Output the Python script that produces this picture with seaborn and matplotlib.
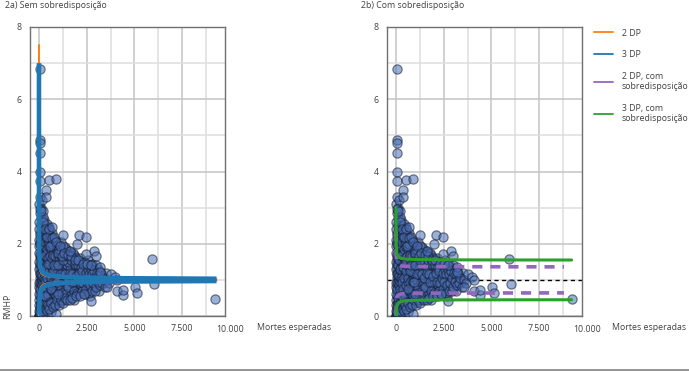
import matplotlib
matplotlib.use('Agg')
import numpy as np
import seaborn as sns
from matplotlib import pyplot as plt
from matplotlib.lines import Line2D

# pontos (mortes esperadas, RMHP), por faixa de mortes esperadas
faixa_0_150 = [(2, 0.00), (5, 3.10), (8, 0.45), (12, 2.60), (15, 0.00), (20, 1.95), (25, 0.30),
               (30, 3.30), (35, 1.20), (40, 0.70), (45, 2.30), (50, 0.10), (55, 1.60), (60, 2.85),
               (65, 0.55), (70, 1.05), (75, 2.05), (80, 0.20), (85, 1.40), (90, 3.00), (95, 0.85),
               (100, 1.80), (105, 0.35), (110, 2.45), (115, 1.25), (120, 0.60), (125, 1.95),
               (130, 2.70), (135, 0.95), (140, 1.50), (145, 0.15), (150, 2.20), (10, 1.75),
               (22, 0.80), (38, 2.95), (52, 1.35), (68, 0.05), (84, 2.55), (98, 1.10), (112, 0.40),
               (128, 1.65), (142, 3.20)]
faixa_0_300_b = [(3, 0.90), (6, 1.50), (9, 2.10), (14, 0.60), (18, 1.30), (24, 2.40), (28, 0.95),
                 (33, 1.70), (42, 0.25), (48, 1.15), (58, 2.00), (62, 0.75), (72, 1.45), (78, 2.25),
                 (88, 0.50), (92, 1.20), (102, 1.60), (108, 0.90), (118, 2.10), (122, 1.40),
                 (132, 0.30), (138, 1.85), (148, 1.00), (155, 1.60), (165, 0.85), (185, 1.95),
                 (195, 1.25), (225, 1.55), (255, 1.85), (285, 1.25), (18, 0.00), (35, 0.00),
                 (55, 0.00), (75, 0.00), (95, 0.02), (130, 0.05), (165, 0.08), (200, 0.05),
                 (12, 0.15), (30, 0.12)]
faixa_150_400 = [(160, 0.25), (170, 1.10), (180, 2.40), (190, 0.60), (200, 1.70), (210, 2.90),
                 (220, 0.95), (230, 0.15), (240, 2.10), (250, 1.35), (260, 0.45), (270, 1.90),
                 (280, 2.65), (290, 0.80), (300, 1.50), (310, 0.30), (320, 2.25), (330, 1.15),
                 (340, 0.70), (350, 1.80), (360, 2.50), (370, 0.50), (380, 1.25), (390, 2.00),
                 (400, 0.90), (175, 1.55), (205, 0.75), (235, 2.75), (265, 1.05), (295, 1.95),
                 (325, 0.40), (355, 1.40), (385, 2.30), (215, 1.30), (245, 0.55), (275, 1.65),
                 (305, 1.00), (335, 2.05), (365, 0.20), (395, 1.60)]
faixa_400_800 = [(420, 0.35), (440, 1.30), (460, 2.20), (480, 0.75), (500, 1.60), (520, 2.45),
                 (540, 1.05), (560, 0.50), (580, 1.85), (600, 1.20), (620, 0.30), (640, 2.05),
                 (660, 0.90), (680, 1.45), (700, 2.30), (720, 0.65), (740, 1.70), (760, 1.10),
                 (780, 0.45), (800, 1.95), (430, 1.75), (470, 0.95), (510, 1.15), (550, 2.10),
                 (590, 0.65), (630, 1.55), (670, 1.90), (710, 1.00), (750, 1.35), (790, 0.80),
                 (450, 0.55), (490, 2.00), (530, 1.40), (570, 0.85), (610, 1.75), (650, 1.25),
                 (690, 0.55), (730, 2.15), (770, 1.50), (410, 2.55)]
faixa_300_900_b = [(310, 1.70), (330, 0.90), (350, 2.20), (370, 1.35), (390, 0.75), (410, 1.85),
                   (430, 1.05), (450, 2.35), (470, 1.60), (490, 0.60), (510, 1.90), (530, 0.85),
                   (550, 1.25), (570, 2.25), (590, 1.45), (610, 0.95), (630, 1.05), (650, 1.85),
                   (670, 0.70), (690, 1.35), (710, 1.65), (730, 0.95), (750, 1.90), (770, 0.70),
                   (790, 1.25), (810, 1.55), (830, 1.00), (850, 0.60), (870, 1.75), (890, 1.15),
                   (320, 0.55), (420, 0.15), (520, 0.25), (620, 0.10), (720, 0.30), (460, 1.45),
                   (560, 1.65), (660, 1.60), (760, 1.70), (860, 1.35)]
faixa_800_1300 = [(820, 0.40), (850, 1.25), (880, 1.95), (910, 0.70), (940, 1.55), (970, 1.05),
                  (1000, 0.50), (1030, 1.80), (1060, 1.20), (1090, 0.85), (1120, 1.60), (1150, 2.05),
                  (1180, 0.60), (1210, 1.35), (1240, 1.00), (1270, 1.75), (1300, 0.75), (830, 1.65),
                  (870, 0.95), (900, 1.40), (960, 0.35), (990, 1.90), (1020, 1.15), (1080, 1.50),
                  (1110, 0.70), (1170, 1.10), (1200, 1.85), (1260, 0.90), (1290, 1.45), (890, 0.05),
                  (940, 2.00)]
faixa_900_2000_b = [(920, 1.20), (950, 0.85), (980, 1.70), (1010, 1.30), (1040, 0.65), (1070, 1.55),
                    (1100, 1.00), (1130, 1.30), (1160, 0.80), (1190, 1.60), (1220, 1.15), (1250, 0.55),
                    (1280, 1.25), (1320, 0.95), (1360, 1.45), (1400, 1.10), (1440, 1.30), (1480, 0.65),
                    (1520, 1.20), (1560, 0.90), (1600, 1.50), (1640, 1.05), (1680, 1.20), (1720, 0.80),
                    (1760, 1.35), (1800, 0.95), (1840, 1.25), (1880, 1.05), (1920, 0.65), (1960, 1.20),
                    (1000, 1.95), (1100, 1.75), (1200, 0.45), (1400, 1.85), (1550, 0.60)]
faixa_1300_2000 = [(1330, 1.20), (1370, 0.55), (1410, 1.65), (1450, 0.90), (1490, 1.40), (1530, 1.05),
                   (1570, 1.80), (1610, 0.70), (1650, 1.30), (1690, 0.95), (1730, 1.55), (1770, 0.60),
                   (1810, 1.15), (1850, 1.70), (1890, 0.85), (1930, 1.35), (1970, 1.00), (1350, 1.90),
                   (1430, 0.75), (1510, 1.50), (1590, 0.50), (1670, 1.75), (1750, 1.10), (1830, 0.45),
                   (1910, 1.50), (1990, 0.75)]
faixa_2000_3500 = [(2050, 1.25), (2120, 0.70), (2190, 1.45), (2260, 0.95), (2330, 1.15), (2400, 0.60),
                   (2470, 1.35), (2540, 0.85), (2610, 1.20), (2680, 0.55), (2750, 1.05), (2820, 0.75),
                   (2900, 1.30), (2980, 0.90), (3060, 1.10), (3150, 0.70), (2150, 1.60), (2350, 0.80),
                   (2550, 1.55), (2760, 1.45), (3100, 1.30), (3250, 0.95), (2020, 0.90), (2080, 1.10),
                   (2140, 1.30), (2200, 0.85), (2280, 1.05), (2360, 1.25), (2430, 0.95), (2500, 1.10),
                   (2580, 0.70), (2650, 1.00), (2720, 1.20), (2800, 0.95), (2870, 1.10), (2950, 1.15),
                   (3030, 0.85), (3120, 1.05), (3300, 1.10), (3420, 0.90), (3500, 1.20), (2250, 1.50),
                   (2650, 1.40), (3000, 1.40)]
faixa_500_3800_c = [(520, 2.05), (560, 0.40), (600, 2.15), (640, 0.75), (680, 2.00), (720, 1.25),
                    (760, 0.35), (800, 1.40), (840, 2.10), (880, 0.55), (920, 1.85), (960, 0.95),
                    (1000, 1.40), (1040, 1.85), (1080, 0.40), (1120, 1.15), (1160, 1.80), (1200, 0.65),
                    (1240, 1.55), (1280, 1.95), (1320, 0.45), (1360, 1.15), (1400, 0.60), (1440, 1.70),
                    (1480, 1.05), (1520, 0.80), (1560, 1.65), (1600, 1.20), (1640, 0.55), (1680, 1.55),
                    (1720, 1.15), (1760, 0.95), (1800, 1.75), (1840, 0.70), (1880, 1.45), (1920, 1.10),
                    (1960, 1.60), (2000, 0.65), (2040, 1.40), (2080, 0.60), (2120, 1.20), (2160, 0.95),
                    (2200, 1.35), (2240, 0.70), (2280, 1.25), (2320, 0.90), (2360, 1.50), (2400, 1.05),
                    (2440, 0.75), (2480, 1.20), (2520, 0.95), (2560, 1.30), (2600, 0.65), (2640, 1.15),
                    (2680, 0.85), (2720, 1.30), (2760, 0.70), (2800, 1.15), (2840, 0.90), (2880, 1.25),
                    (2920, 0.70), (2960, 1.05), (3000, 0.80), (3040, 1.20), (3080, 0.95), (3140, 1.15),
                    (3200, 0.85), (3260, 1.20), (3320, 0.90), (3380, 1.05), (3450, 0.80), (3550, 1.00),
                    (3650, 0.90), (3750, 1.15)]
borda_inferior = [(450, 0.30), (550, 0.20), (650, 0.35), (750, 0.25), (850, 0.30), (950, 0.45),
                  (1050, 0.30), (1150, 0.45), (1250, 0.35), (1350, 0.50), (1450, 0.45), (1650, 0.45),
                  (1750, 0.50), (1950, 0.55), (2150, 0.55), (2350, 0.60)]
borda_superior = [(100, 2.90), (200, 2.60), (300, 2.40), (400, 2.20), (500, 2.40), (600, 1.95),
                  (700, 2.15), (800, 2.20), (900, 2.05), (1000, 1.75), (1100, 1.95), (1200, 1.65),
                  (1300, 1.75), (1500, 1.70), (1700, 1.65), (1900, 1.55), (2050, 1.55), (2300, 1.45),
                  (2500, 1.45), (2700, 1.40)]
isolados = [(80, 6.85), (45, 4.87), (40, 4.78), (55, 4.50), (50, 4.00), (60, 3.75), (540, 3.76),
            (890, 3.79), (365, 3.49), (365, 3.30), (700, 2.47), (1250, 2.24), (2100, 2.25),
            (2460, 2.20), (1970, 1.98), (1620, 1.80), (2880, 1.80), (3000, 1.67), (2440, 1.71),
            (3190, 1.37), (3190, 1.21), (3980, 1.08), (5930, 1.57), (4070, 1.00), (4100, 0.68),
            (4380, 0.57), (4420, 0.73), (3540, 0.79), (5050, 0.80), (5130, 0.65), (6010, 0.88),
            (2740, 0.41), (9200, 0.48), (980, 0.60)]

# limites do funil sem sobredisposição
lim_esperadas = [0.2, 0.5, 1, 2, 4, 8, 15, 30, 60, 120, 250, 500, 1000, 2000, 4000, 9300]
sup_2dp = [7.5, 3.8, 3.0, 2.4, 2.0, 1.71, 1.52, 1.37, 1.26, 1.18, 1.13, 1.09, 1.063, 1.045, 1.032, 1.021]
inf_2dp = [0, 0, 0, 0, 0, 0.29, 0.48, 0.63, 0.74, 0.82, 0.87, 0.91, 0.937, 0.955, 0.968, 0.979]
sup_3dp = [7.0, 5.2, 4.0, 3.1, 2.5, 2.06, 1.77, 1.55, 1.39, 1.27, 1.19, 1.13, 1.095, 1.067, 1.047, 1.031]
inf_3dp = [0, 0, 0, 0, 0, 0, 0.23, 0.45, 0.61, 0.73, 0.81, 0.87, 0.905, 0.933, 0.953, 0.969]

# limites com sobredisposição
lim_esperadas_3od = [2, 4, 8, 15, 30, 60, 120, 250, 500, 1000, 2500, 5000, 9200]
sup_3dp_od = [3.0, 2.6, 2.2, 1.98, 1.8, 1.7, 1.64, 1.6, 1.575, 1.565, 1.555, 1.552, 1.55]
inf_3dp_od = [0, 0, 0, 0.05, 0.2, 0.3, 0.36, 0.4, 0.425, 0.435, 0.445, 0.448, 0.45]
lim_esperadas_2od = [2, 4, 8, 15, 30, 60, 120, 250, 500, 1000, 2500, 5000, 8800]
sup_2dp_od = [2.35, 2.05, 1.8, 1.65, 1.53, 1.46, 1.42, 1.39, 1.375, 1.37, 1.365, 1.363, 1.36]
inf_2dp_od = [0, 0, 0.2, 0.35, 0.47, 0.54, 0.58, 0.61, 0.625, 0.63, 0.635, 0.637, 0.64]

x_ticks = [0, 2500, 5000, 7500]
x_labels = ['0', '2.500', '5.000', '7.500']
y_ticks = [0, 2, 4, 6, 8]

pontos = np.array(faixa_0_150 + faixa_0_300_b + faixa_150_400 + faixa_400_800 + faixa_300_900_b
                  + faixa_800_1300 + faixa_900_2000_b + faixa_1300_2000 + faixa_2000_3500
                  + faixa_500_3800_c + borda_inferior + borda_superior + isolados)
esperadas, rmhp = pontos[:, 0], pontos[:, 1]

sns.set_theme(style='white')
plt.rcParams['font.family'] = ['Open Sans', 'DejaVu Sans']
texto = '#404040'
FS = 6.3

fig = plt.figure(figsize=(6.89, 3.71), dpi=100)
W, H = 689, 371
ax1 = fig.add_axes([30 / W, 1 - 316 / H, 195 / W, 289 / H])
ax2 = fig.add_axes([387 / W, 1 - 316 / H, 195 / W, 289 / H])

LARANJA, AZUL, ROXO, VERDE = '#ff7f0e', '#1f77b4', '#9467bd', '#2ca02c'

for ax in (ax1, ax2):
    ax.set_xlim(-470, 9745)
    ax.set_ylim(0, 8)
    ax.set_xticks(x_ticks)
    ax.set_xticklabels(x_labels)
    ax.set_xticks([1250, 3750, 6250, 8750], minor=True)
    ax.set_yticks(y_ticks)
    ax.set_yticks([1, 3, 5, 7], minor=True)
    ax.grid(True, which='major', color='#c4c4c4', lw=1.1)
    ax.grid(True, which='minor', color='#dedede', lw=1.1)
    ax.set_axisbelow(True)
    ax.tick_params(which='both', length=0, labelsize=FS, labelcolor=texto)
    ax.tick_params(axis='x', pad=6)
    ax.tick_params(axis='y', pad=6)
    for s in ax.spines.values():
        s.set_color('#707070')
        s.set_linewidth(1.0)
    ax.text(10000, -0.37, '10.000', ha='center', va='center', fontsize=FS, color=texto, clip_on=False)
    sns.scatterplot(x=esperadas, y=rmhp, ax=ax, s=44, color='#4a6fb5', edgecolor='#141c30',
                    linewidth=0.9, alpha=0.55, zorder=3)
    ax.set_xlabel('')
    ax.set_ylabel('')

# painel a
ax1.plot(lim_esperadas, sup_2dp, color=LARANJA, lw=1.4, zorder=4)
ax1.plot(lim_esperadas, inf_2dp, color=LARANJA, lw=1.4, zorder=4)
ax1.plot(lim_esperadas, sup_3dp, color=AZUL, lw=3.3, zorder=5, solid_capstyle='butt')
ax1.plot(lim_esperadas, inf_3dp, color=AZUL, lw=3.3, zorder=5, solid_capstyle='butt')

# painel b
ax2.axhline(1, color='black', lw=1, ls=(0, (3, 2.5)), zorder=2)
ax2.plot(lim_esperadas_2od, sup_2dp_od, color=ROXO, lw=2.6, ls=(0, (2.8, 2.2)), zorder=4)
ax2.plot(lim_esperadas_2od, inf_2dp_od, color=ROXO, lw=2.6, ls=(0, (2.8, 2.2)), zorder=4)
ax2.plot(lim_esperadas_3od, sup_3dp_od, color=VERDE, lw=2.2, zorder=4)
ax2.plot(lim_esperadas_3od, inf_3dp_od, color=VERDE, lw=2.2, zorder=4)

fig.text(5 / W, 1 - 5 / H, '2a) Sem sobredisposição', fontsize=FS, color=texto, va='center')
fig.text(361 / W, 1 - 5 / H, '2b) Com sobredisposição', fontsize=FS, color=texto, va='center')
fig.text(8 / W, 1 - 306 / H, 'RMHP', rotation=90, fontsize=FS, color=texto, va='center', ha='center')
fig.text(257 / W, 1 - 327 / H, 'Mortes esperadas', fontsize=FS, color=texto, va='center')
fig.text(612 / W, 1 - 327 / H, 'Mortes esperadas', fontsize=FS, color=texto, va='center')

handles = [Line2D([], [], color=c, lw=1.3) for c in (LARANJA, AZUL, ROXO, VERDE)]
labels = ['2 DP', '3 DP', '2 DP, com\nsobredisposição', '3 DP, com\nsobredisposição']
leg = fig.legend(handles, labels, loc='upper left', bbox_to_anchor=(590 / W, 1 - 25 / H),
                 frameon=False, fontsize=FS, handlelength=2.2, handletextpad=1.0,
                 labelspacing=1.45, borderaxespad=0)
for t in leg.get_texts():
    t.set_color(texto)

fig.add_artist(Line2D([0, 1], [1.5 / H, 1.5 / H], color='#808080', lw=1.2))

fig.savefig('out.png', dpi=100)
